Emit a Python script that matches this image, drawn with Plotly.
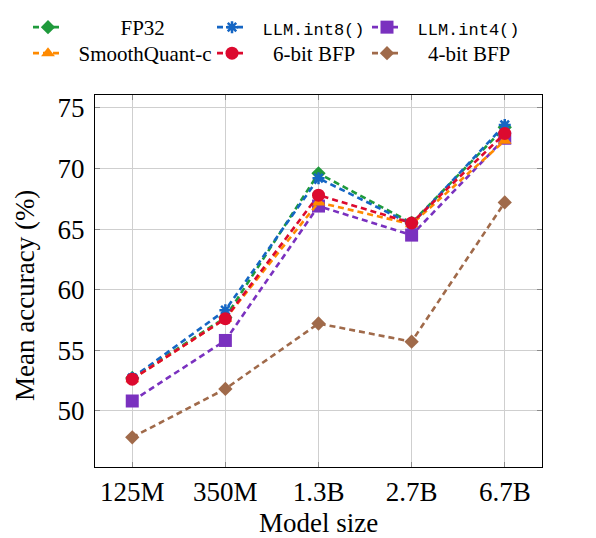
import plotly.graph_objects as go

model_sizes = ["125M", "350M", "1.3B", "2.7B", "6.7B"]

fp32 = [52.7, 57.7, 69.6, 65.5, 73.4]
llm_int8 = [52.7, 58.3, 69.2, 65.4, 73.6]
llm_int4 = [50.8, 55.8, 66.9, 64.5, 72.5]
smoothquant_c = [52.6, 57.6, 67.2, 65.4, 72.3]
bfp6 = [52.6, 57.6, 67.8, 65.5, 72.9]
bfp4 = [47.8, 51.8, 57.2, 55.7, 67.2]

y_ticks = [50, 55, 60, 65, 70, 75]

NB = "\u00a0"
MONO = "<span style='font-family:Liberation Mono, DejaVu Sans Mono, monospace;font-size:17px'>{}</span>"

W, H = 596, 538
plot_l, plot_r, plot_t, plot_b = 95, 542, 95, 467  # page pixels

ml = plot_l
mt = plot_t
mr = W - plot_r
mb = H - plot_b
pw = W - ml - mr
ph = H - mt - mb

def px_x(px):
    return (px - ml) / pw

def px_y(py):
    return 1 + (mt - py) / ph

col_x = [28, 212, 367]
row_y = [7, 33]

series = [
    # name, values, color, symbol, size, (col, row)
    (NB * 10 + "FP32", fp32, "#1f9a3c", "diamond", 11, (0, 0)),
    (NB * 2 + MONO.format("LLM.int8()"), llm_int8, "#1566c4", "asterisk-open", 10, (1, 0)),
    (NB * 2 + MONO.format("LLM.int4()"), llm_int4, "#7a31bf", "square", 13, (2, 0)),
    (NB * 2 + "SmoothQuant-c", smoothquant_c, "#ff8a00", "triangle-up", 12, (0, 1)),
    (NB * 4 + "6-bit BFP", bfp6, "#dc0a2f", "circle", 13, (1, 1)),
    (NB * 4 + "4-bit BFP", bfp4, "#a06a4a", "diamond", 11, (2, 1)),
]

leg_font = dict(family="Liberation Serif, Times New Roman, serif", size=21, color="black")

fig = go.Figure()
x_idx = list(range(len(model_sizes)))
legends = {}
for i, (name, vals, color, sym, size, (c, r)) in enumerate(series):
    marker = dict(symbol=sym, size=size, color=color)
    if sym == "asterisk-open":
        marker["line"] = dict(color=color, width=2.5)
    else:
        marker["line"] = dict(width=0)
    leg_id = "legend" if i == 0 else f"legend{i + 1}"
    fig.add_trace(go.Scatter(
        x=x_idx, y=vals, name=name, mode="lines+markers",
        line=dict(color=color, width=2.6, dash="6px,4px"),
        marker=marker, legend=leg_id, showlegend=True,
    ))
    legends[leg_id] = dict(
        x=px_x(col_x[c]), y=px_y(row_y[r]), xanchor="left", yanchor="top",
        font=leg_font, bgcolor="rgba(0,0,0,0)", borderwidth=0, orientation="v",
        visible=True,
    )

fig.update_layout(
    width=W, height=H,
    showlegend=True,
    margin=dict(l=ml, r=mr, t=mt, b=mb, autoexpand=False),
    paper_bgcolor="white", plot_bgcolor="white",
    font=dict(family="Liberation Serif, Times New Roman, serif", size=27, color="black"),
    xaxis=dict(
        range=[-0.4, 4.4], tickmode="array", tickvals=x_idx, ticktext=model_sizes,
        showgrid=True, gridcolor="#cfcfcf", gridwidth=1,
        ticks="inside", ticklen=5, tickcolor="#8a8a8a", tickwidth=1,
        showline=True, linecolor="black", linewidth=1.2, mirror="allticks",
        zeroline=False,
        tickfont=dict(size=27),
    ),
    yaxis=dict(
        range=[45.35, 76.07], tickmode="array", tickvals=y_ticks,
        showgrid=True, gridcolor="#cfcfcf", gridwidth=1,
        ticks="inside", ticklen=5, tickcolor="#8a8a8a", tickwidth=1,
        showline=True, linecolor="black", linewidth=1.2, mirror="allticks",
        zeroline=False,
        tickfont=dict(size=27),
        ticklabelstandoff=4,
    ),
    annotations=[
        dict(
            text="Mean accuracy (%)", textangle=-90, xref="paper", yref="paper",
            x=px_x(25), y=px_y(296), xanchor="center", yanchor="middle",
            showarrow=False, font=dict(size=27),
        ),
        dict(
            text="Model size", xref="paper", yref="paper",
            x=px_x(318), y=px_y(523), xanchor="center", yanchor="middle",
            showarrow=False, font=dict(size=27),
        ),
    ],
    **legends,
)

fig.write_html(
    "out.html",
    config={"displayModeBar": False},
    post_script="document.body.style.margin='0';",
)
